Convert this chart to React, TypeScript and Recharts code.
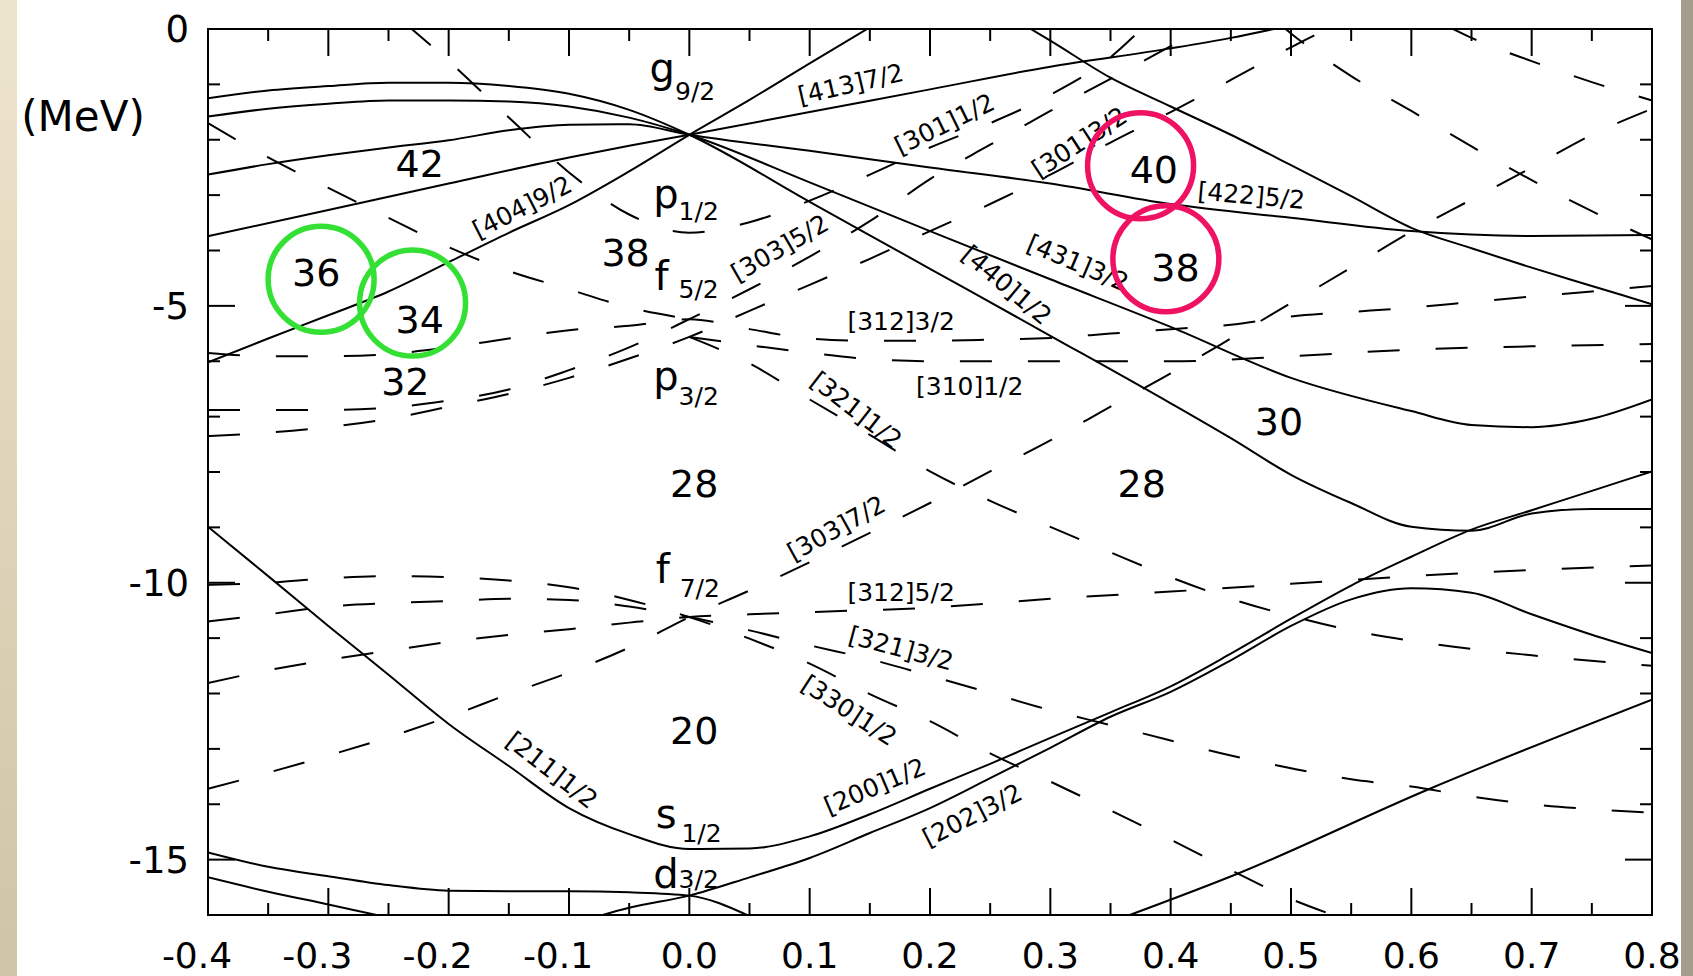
import React from 'react';
import { ComposedChart, Line, XAxis, YAxis, Scatter, ReferenceArea } from 'recharts';

type Pt = [number, number];

const W = 1693;
const H = 976;
const PLOT = { left: 208, top: 29, right: 1652, bottom: 915 };
const FONT = 'DejaVu Sans, sans-serif';

// ---------- axis ticks ----------
const xTicks = [-0.4, -0.35, -0.3, -0.25, -0.2, -0.15, -0.1, -0.05, 0, 0.05, 0.1, 0.15, 0.2, 0.25, 0.3, 0.35, 0.4, 0.45, 0.5, 0.55, 0.6, 0.65, 0.7, 0.75, 0.8];
const yTicks = [-16, -15, -14, -13, -12, -11, -10, -9, -8, -7, -6, -5, -4, -3, -2, -1, 0];

// ---------- positive parity (solid) levels ----------
const g92_440: Pt[] = [[-0.4, -1.25], [-0.35, -1.11], [-0.3, -1.03], [-0.25, -0.97], [-0.2, -0.97], [-0.15, -1.03], [-0.1, -1.17], [-0.05, -1.46], [0, -1.91], [0.1, -3.12], [0.2, -4.33], [0.3, -5.54], [0.4, -6.76], [0.45, -7.39], [0.5, -8.05], [0.55, -8.56], [0.6, -8.99], [0.65, -9.06], [0.7, -8.75], [0.75, -8.67], [0.8, -8.67]];
const g92_431: Pt[] = [[-0.4, -1.58], [-0.35, -1.44], [-0.3, -1.35], [-0.25, -1.29], [-0.2, -1.29], [-0.15, -1.31], [-0.1, -1.4], [-0.05, -1.6], [0, -1.91], [0.1, -2.77], [0.2, -3.65], [0.3, -4.52], [0.4, -5.38], [0.5, -6.3], [0.6, -6.9], [0.65, -7.15], [0.7, -7.19], [0.75, -7.04], [0.8, -6.69]];
const g92_422: Pt[] = [[-0.4, -2.63], [-0.35, -2.44], [-0.3, -2.28], [-0.25, -2.14], [-0.2, -2.01], [-0.15, -1.83], [-0.1, -1.73], [-0.05, -1.72], [0, -1.91], [0.1, -2.2], [0.2, -2.5], [0.3, -2.79], [0.4, -3.16], [0.5, -3.41], [0.6, -3.65], [0.7, -3.74], [0.8, -3.72]];
const g92_413: Pt[] = [[-0.4, -3.74], [-0.3, -3.27], [-0.2, -2.79], [-0.1, -2.32], [-0.05, -2.11], [0, -1.91], [0.1, -1.5], [0.2, -1.09], [0.3, -0.68], [0.4, -0.35], [0.45, -0.16], [0.49, 0.02]];
const g92_404: Pt[] = [[-0.4, -6.02], [-0.35, -5.59], [-0.3, -5.17], [-0.25, -4.74], [-0.2, -4.21], [-0.15, -3.68], [-0.1, -3.18], [-0.05, -2.57], [0, -1.91], [0.05, -1.28], [0.1, -0.62], [0.15, 0.03]];
const upperIntruder: Pt[] = [[0.28, 0.05], [0.3, -0.21], [0.35, -0.88], [0.4, -1.4], [0.45, -1.91], [0.5, -2.46], [0.55, -3.02], [0.6, -3.59], [0.65, -3.96], [0.7, -4.31], [0.75, -4.64], [0.8, -4.97]];
const s12_200: Pt[] = [[-0.4, -8.99], [-0.35, -9.88], [-0.3, -10.78], [-0.25, -11.66], [-0.2, -12.55], [-0.15, -13.31], [-0.1, -14.07], [-0.05, -14.54], [0, -14.81], [0.05, -14.8], [0.1, -14.58], [0.15, -14.18], [0.2, -13.72], [0.25, -13.27], [0.3, -12.8], [0.35, -12.34], [0.4, -11.87], [0.45, -11.28], [0.5, -10.65], [0.55, -10.05], [0.6, -9.53], [0.65, -9.04], [0.7, -8.69], [0.75, -8.34], [0.8, -7.99]];
const d32_202: Pt[] = [[-0.08, -16.05], [-0.05, -15.87], [0, -15.65], [0.05, -15.32], [0.1, -14.97], [0.15, -14.52], [0.2, -14.07], [0.25, -13.53], [0.3, -12.98], [0.35, -12.42], [0.4, -11.97], [0.45, -11.4], [0.5, -10.78], [0.55, -10.3], [0.6, -10.1], [0.65, -10.18], [0.7, -10.57], [0.75, -10.94], [0.8, -11.27]];
const d32_oblate: Pt[] = [[-0.4, -14.87], [-0.35, -15.13], [-0.3, -15.3], [-0.25, -15.46], [-0.2, -15.56], [-0.15, -15.57], [-0.1, -15.57], [-0.05, -15.59], [0, -15.65], [0.05, -16.02]];
const d52_oblate: Pt[] = [[-0.4, -15.32], [-0.35, -15.58], [-0.3, -15.81], [-0.26, -16.0]];
const lowerIntruder: Pt[] = [[0.366, -16.0], [0.455, -15.26], [0.611, -13.76], [0.8, -12.11]];

// ---------- negative parity (dashed) levels ----------
const f72_303: Pt[] = [[-0.4, -13.72], [-0.35, -13.43], [-0.3, -13.12], [-0.25, -12.79], [-0.2, -12.42], [-0.15, -12.01], [-0.1, -11.62], [-0.05, -11.17], [0, -10.62], [0.05, -10.14], [0.1, -9.63], [0.15, -9.1], [0.2, -8.56], [0.25, -7.99], [0.3, -7.43], [0.35, -6.82], [0.4, -6.22], [0.45, -5.59], [0.5, -4.95], [0.55, -4.31], [0.6, -3.66], [0.65, -3.08], [0.7, -2.5], [0.75, -1.91], [0.8, -1.44]];
const f72_312: Pt[] = [[-0.4, -11.81], [-0.35, -11.58], [-0.3, -11.39], [-0.25, -11.23], [-0.2, -11.07], [-0.15, -10.94], [-0.1, -10.84], [-0.05, -10.72], [0, -10.62], [0.05, -10.57], [0.1, -10.53], [0.2, -10.45], [0.3, -10.29], [0.4, -10.16], [0.5, -10.02], [0.6, -9.88], [0.7, -9.77], [0.8, -9.69]];
const f72_321: Pt[] = [[-0.4, -10.7], [-0.35, -10.57], [-0.3, -10.43], [-0.25, -10.37], [-0.2, -10.33], [-0.15, -10.29], [-0.1, -10.31], [-0.05, -10.43], [0, -10.62], [0.05, -10.86], [0.1, -11.13], [0.15, -11.38], [0.2, -11.68], [0.25, -11.99], [0.3, -12.3], [0.35, -12.57], [0.4, -12.85], [0.45, -13.12], [0.5, -13.35], [0.55, -13.55], [0.6, -13.68], [0.65, -13.86], [0.7, -14.0], [0.75, -14.09], [0.8, -14.15]];
const f72_330: Pt[] = [[-0.4, -10.04], [-0.35, -10.0], [-0.3, -9.92], [-0.25, -9.88], [-0.2, -9.9], [-0.15, -9.96], [-0.1, -10.08], [-0.05, -10.31], [0, -10.62], [0.05, -11.01], [0.1, -11.46], [0.15, -12.01], [0.2, -12.5], [0.25, -13.08], [0.3, -13.59], [0.35, -14.11], [0.4, -14.64], [0.45, -15.19], [0.5, -15.71], [0.535, -16.0]];
const p12_301: Pt[] = [[-0.235, 0.08], [-0.2, -0.58], [-0.15, -1.6], [-0.1, -2.59], [-0.05, -3.35], [0, -3.68], [0.05, -3.49], [0.1, -3.1], [0.15, -2.63], [0.2, -2.14], [0.25, -1.7], [0.3, -1.19], [0.35, -0.51], [0.378, 0.05]];
const f52_oblate: Pt[] = [[-0.4, -1.7], [-0.35, -2.32], [-0.3, -2.87], [-0.25, -3.41], [-0.2, -3.94], [-0.15, -4.37], [-0.1, -4.7], [-0.05, -5.03], [0, -5.24]];
const f52_303: Pt[] = [[-0.4, -6.88], [-0.35, -6.88], [-0.3, -6.88], [-0.25, -6.84], [-0.2, -6.71], [-0.15, -6.51], [-0.1, -6.16], [-0.05, -5.75], [0, -5.24], [0.05, -4.7], [0.1, -4.11], [0.15, -3.47], [0.2, -2.71], [0.25, -2.09], [0.3, -1.48], [0.35, -0.9], [0.4, -0.31], [0.43, 0.05]];
const f52_312: Pt[] = [[-0.4, -5.85], [-0.35, -5.91], [-0.3, -5.91], [-0.25, -5.87], [-0.2, -5.75], [-0.15, -5.59], [-0.1, -5.44], [-0.05, -5.36], [0, -5.24], [0.05, -5.42], [0.1, -5.59], [0.15, -5.63], [0.2, -5.63], [0.25, -5.61], [0.3, -5.58], [0.35, -5.5], [0.4, -5.42], [0.45, -5.34], [0.5, -5.19], [0.55, -5.11], [0.6, -5.03], [0.65, -4.93], [0.7, -4.83], [0.75, -4.74], [0.8, -4.64]];
const p32_301: Pt[] = [[-0.4, -7.35], [-0.35, -7.29], [-0.3, -7.19], [-0.25, -7.04], [-0.2, -6.82], [-0.15, -6.59], [-0.1, -6.3], [-0.05, -5.95], [0, -5.56], [0.05, -5.09], [0.1, -4.62], [0.15, -4.15], [0.2, -3.65], [0.25, -3.16], [0.3, -2.63], [0.35, -2.05], [0.4, -1.5], [0.45, -0.92], [0.5, -0.33], [0.535, 0.05]];
const p32_310: Pt[] = [[0, -5.56], [0.05, -5.71], [0.1, -5.85], [0.15, -5.96], [0.2, -6.0], [0.3, -6.0], [0.4, -6.0], [0.5, -5.91], [0.6, -5.79], [0.7, -5.73], [0.8, -5.69]];
const p32_321: Pt[] = [[0, -5.56], [0.05, -6.04], [0.1, -6.69], [0.15, -7.33], [0.2, -7.99], [0.25, -8.52], [0.3, -8.99], [0.35, -9.45], [0.4, -9.9], [0.45, -10.29], [0.5, -10.6], [0.55, -10.86], [0.6, -11.05], [0.7, -11.31], [0.8, -11.5]];
const upperDashA: Pt[] = [[0.49, 0.1], [0.5, -0.08], [0.55, -0.85], [0.6, -1.48], [0.65, -2.12], [0.7, -2.73], [0.75, -3.29], [0.8, -3.8]];
const upperDashB: Pt[] = [[0.63, 0.05], [0.65, -0.16], [0.7, -0.58], [0.75, -0.96], [0.8, -1.29]];

const solidLevels: Pt[][] = [g92_440, g92_431, g92_422, g92_413, g92_404, upperIntruder, s12_200, d32_202, d32_oblate, d52_oblate, lowerIntruder];
const dashedLevels: Pt[][] = [f72_303, f72_312, f72_321, f72_330, p12_301, f52_oblate, f52_303, f52_312, p32_301, p32_310, p32_321, upperDashA, upperDashB];

// ---------- annotations ----------
const gapNumbers = [
  { x: -0.224, y: -2.42, t: '42' },
  { x: -0.31, y: -4.39, t: '36' },
  { x: -0.224, y: -5.25, t: '34' },
  { x: -0.236, y: -6.37, t: '32' },
  { x: -0.053, y: -4.03, t: '38' },
  { x: 0.386, y: -2.54, t: '40' },
  { x: 0.404, y: -4.3, t: '38' },
  { x: 0.49, y: -7.09, t: '30' },
  { x: 0.004, y: -8.21, t: '28' },
  { x: 0.376, y: -8.21, t: '28' },
  { x: 0.004, y: -12.66, t: '20' },
];

const sphericalLabels = [
  { x: -0.033, y: -0.954, l: 'g', s: '9/2', dx: 0, dy: 18 },
  { x: -0.03, y: -3.23, l: 'p', s: '1/2', dx: 0, dy: 12 },
  { x: -0.029, y: -4.71, l: 'f', s: '5/2', dx: 10, dy: 8 },
  { x: -0.03, y: -6.52, l: 'p', s: '3/2', dx: 0, dy: 15 },
  { x: -0.028, y: -10.0, l: 'f', s: '7/2', dx: 10, dy: 14 },
  { x: -0.028, y: -14.43, l: 's', s: '1/2', dx: 5, dy: 14 },
  { x: -0.03, y: -15.51, l: 'd', s: '3/2', dx: 0, dy: 0 },
];

const nilssonLabels = [
  { x: -0.139, y: -3.21, t: '[404]9/2', a: -27 },
  { x: 0.134, y: -0.99, t: '[413]7/2', a: -13 },
  { x: 0.212, y: -1.71, t: '[301]1/2', a: -26 },
  { x: 0.324, y: -2.04, t: '[301]3/2', a: -33 },
  { x: 0.467, y: -3.0, t: '[422]5/2', a: 5 },
  { x: 0.323, y: -4.22, t: '[431]3/2', a: 23 },
  { x: 0.264, y: -4.62, t: '[440]1/2', a: 40 },
  { x: 0.075, y: -3.95, t: '[303]5/2', a: -30 },
  { x: 0.176, y: -5.27, t: '[312]3/2', a: 0 },
  { x: 0.233, y: -6.44, t: '[310]1/2', a: 0 },
  { x: 0.139, y: -6.88, t: '[321]1/2', a: 38 },
  { x: 0.122, y: -9.01, t: '[303]7/2', a: -29 },
  { x: 0.176, y: -10.16, t: '[312]5/2', a: 0 },
  { x: 0.176, y: -11.18, t: '[321]3/2', a: 15 },
  { x: 0.133, y: -12.3, t: '[330]1/2', a: 33 },
  { x: -0.114, y: -13.38, t: '[211]1/2', a: 38 },
  { x: 0.154, y: -13.67, t: '[200]1/2', a: -23 },
  { x: 0.235, y: -14.19, t: '[202]3/2', a: -27 },
];

const circles = [
  { x: -0.306, y: -4.52, c: '#33e033' },
  { x: -0.23, y: -4.95, c: '#33e033' },
  { x: 0.375, y: -2.47, c: '#f01262' },
  { x: 0.396, y: -4.15, c: '#f01262' },
];

const toPts = (a: Pt[]) => a.map(([x, y]) => ({ x, y }));

const XTick = (props: any) => {
  const { x, payload } = props;
  const v = payload.value as number;
  const major = Math.abs(v * 10 - Math.round(v * 10)) < 1e-6;
  const len = major ? 27 : 12;
  return (
    <g>
      <line x1={x} x2={x} y1={PLOT.bottom} y2={PLOT.bottom - len} stroke="#000" strokeWidth={2} />
      <line x1={x} x2={x} y1={PLOT.top} y2={PLOT.top + len} stroke="#000" strokeWidth={2} />
      {major && (
        <text x={x - (v < -1e-9 ? 11 : 0)} y={968} textAnchor="middle" fontSize={36} fontFamily={FONT} fill="#000">
          {v.toFixed(1)}
        </text>
      )}
    </g>
  );
};

const YTick = (props: any) => {
  const { y, payload } = props;
  const v = payload.value as number;
  const major = Math.round(v) % 5 === 0;
  const len = major ? 27 : 12;
  return (
    <g>
      <line x1={PLOT.left} x2={PLOT.left + len} y1={y} y2={y} stroke="#000" strokeWidth={2} />
      <line x1={PLOT.right} x2={PLOT.right - len} y1={y} y2={y} stroke="#000" strokeWidth={2} />
      {major && v > -16 && (
        <text x={189} y={y + 13} textAnchor="end" fontSize={37} fontFamily={FONT} fill="#000">
          {String(v)}
        </text>
      )}
    </g>
  );
};

const MeVLabel = () => (
  <text x={83} y={131} textAnchor="middle" fontSize={42} fontFamily={FONT} fill="#000">
    (MeV)
  </text>
);

const NumberShape = (p: any) => {
  const d = p.payload ?? p;
  return (
    <text x={p.cx} y={p.cy} dy="0.36em" textAnchor="middle" fontSize={38} fontFamily={FONT} fill="#000">
      {d.t}
    </text>
  );
};

const SphShape = (p: any) => {
  const d = p.payload ?? p;
  return (
    <text x={p.cx} y={p.cy} fontSize={40} fontFamily={FONT} fill="#000">
      {d.l}
      <tspan dx={d.dx} dy={d.dy} fontSize={25}>
        {d.s}
      </tspan>
    </text>
  );
};

const NilShape = (p: any) => {
  const d = p.payload ?? p;
  return (
    <text
      x={p.cx}
      y={p.cy}
      dy="0.36em"
      textAnchor="middle"
      fontSize={25}
      fontFamily={FONT}
      fill="#000"
      transform={`rotate(${d.a} ${p.cx} ${p.cy})`}
    >
      {d.t}
    </text>
  );
};

const CircleShape = (p: any) => {
  const d = p.payload ?? p;
  return <circle cx={p.cx} cy={p.cy} r={53} fill="none" stroke={d.c} strokeWidth={5.5} />;
};

export default function App() {
  return (
    <div style={{ position: 'absolute', left: 0, top: 0, width: W, height: H, background: '#fff', overflow: 'hidden' }}>
      <div style={{ position: 'absolute', left: 0, top: 0, width: 17, height: H, background: 'linear-gradient(#eee5cd, #cfc4a6)' }} />
      <div style={{ position: 'absolute', left: 1681, top: 0, width: W - 1681, height: H, background: '#a39d8c' }} />
      <div style={{ position: 'absolute', left: 0, top: 0 }}>
        <ComposedChart width={W} height={H} margin={{ top: PLOT.top, right: W - PLOT.right, left: 0, bottom: 0 }}>
          <XAxis
            dataKey="x"
            type="number"
            domain={[-0.4, 0.8]}
            allowDataOverflow
            ticks={xTicks}
            interval={0}
            tick={<XTick />}
            tickLine={false}
            axisLine={false}
            tickSize={0}
            tickMargin={0}
            height={H - PLOT.bottom}
          />
          <YAxis
            dataKey="y"
            type="number"
            domain={[-16, 0]}
            allowDataOverflow
            ticks={yTicks}
            interval={0}
            tick={<YTick />}
            tickLine={false}
            axisLine={false}
            tickSize={0}
            tickMargin={0}
            width={PLOT.left}
            label={<MeVLabel />}
          />
          <ReferenceArea x1={-0.4} x2={0.8} y1={-16} y2={0} fill="none" fillOpacity={0} stroke="#000" strokeWidth={2} ifOverflow="visible" />
          {solidLevels.map((c, i) => (
            <Line
              key={'s' + i}
              data={toPts(c)}
              dataKey="y"
              type="monotone"
              stroke="#000"
              strokeWidth={2}
              dot={false}
              activeDot={false}
              isAnimationActive={false}
              legendType="none"
            />
          ))}
          {dashedLevels.map((c, i) => (
            <Line
              key={'d' + i}
              data={toPts(c)}
              dataKey="y"
              type="monotone"
              stroke="#000"
              strokeWidth={2}
              strokeDasharray="32 36"
              dot={false}
              activeDot={false}
              isAnimationActive={false}
              legendType="none"
            />
          ))}
          <Scatter data={gapNumbers} dataKey="y" shape={NumberShape} isAnimationActive={false} />
          <Scatter data={sphericalLabels} dataKey="y" shape={SphShape} isAnimationActive={false} />
          <Scatter data={nilssonLabels} dataKey="y" shape={NilShape} isAnimationActive={false} />
          <Scatter data={circles} dataKey="y" shape={CircleShape} isAnimationActive={false} />
        </ComposedChart>
      </div>
    </div>
  );
}
